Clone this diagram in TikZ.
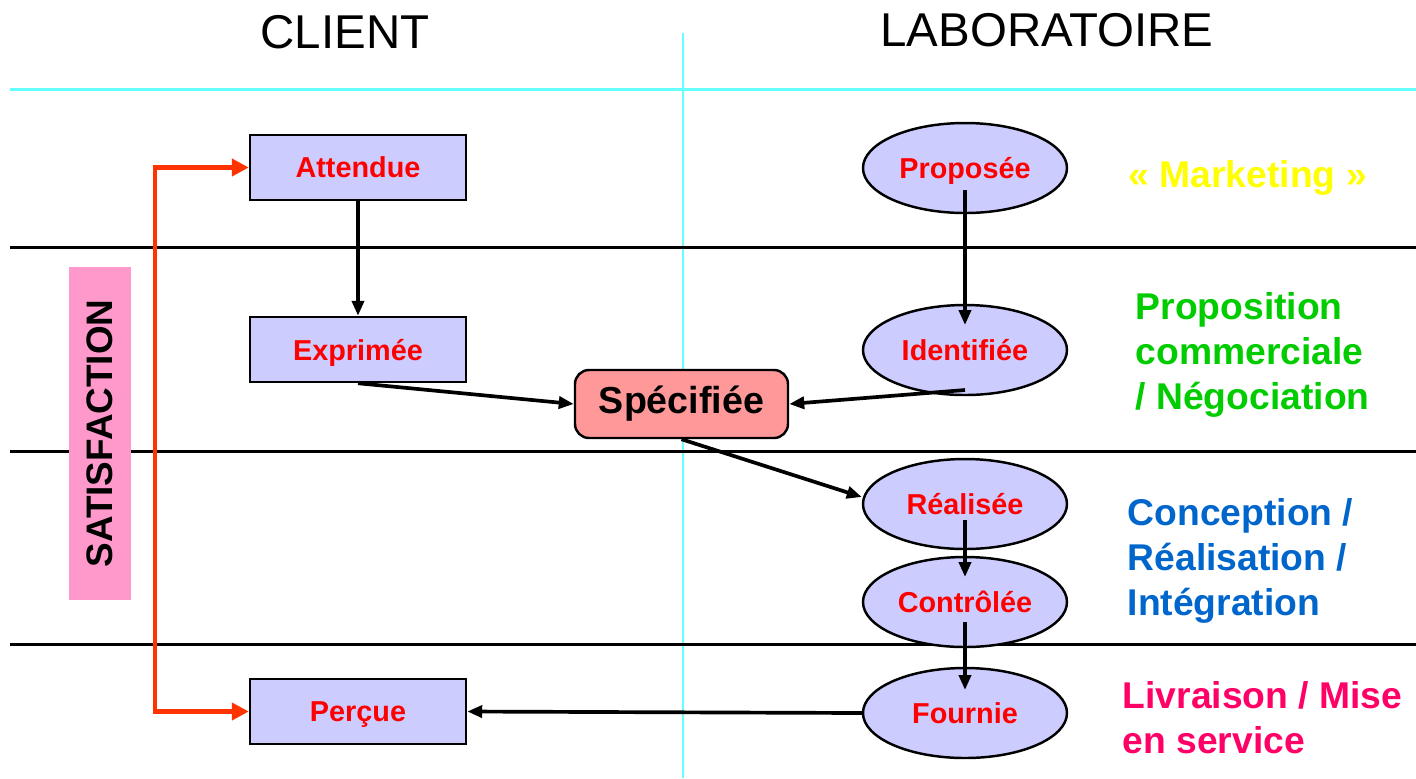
\documentclass[tikz,border=0pt]{standalone}
\usepackage{fontspec}
\setmainfont{Liberation Sans}
\definecolor{boxlilac}{RGB}{204, 204, 255}
\definecolor{labred}{RGB}{255, 0, 0}
\definecolor{specpink}{RGB}{255, 153, 153}
\definecolor{satpink}{RGB}{255, 153, 204}
\definecolor{satorange}{RGB}{255, 51, 0}
\definecolor{sepcyan}{RGB}{102, 255, 255}
\definecolor{mktyellow}{RGB}{255, 255, 0}
\definecolor{negogreen}{RGB}{0, 204, 0}
\definecolor{concblue}{RGB}{0, 102, 204}
\definecolor{livpink}{RGB}{255, 0, 102}
\usetikzlibrary{shapes, arrows.meta, positioning, calc}

\begin{document}
\begin{tikzpicture}[
  clientbox/.style={draw, fill=boxlilac, line width=0.7pt, minimum width=2.16cm, minimum height=0.65cm, text depth=0pt, text=labred, font=\fontsize{8.2}{10}\selectfont\bfseries},
  labellipse/.style={draw, ellipse, inner sep=0pt, fill=boxlilac, line width=0.7pt, minimum width=2.04cm, minimum height=0.9cm, text depth=0pt, text=labred, font=\fontsize{8.2}{10}\selectfont\bfseries},
  flowarrow/.style={line width=1.05pt, -{Triangle[length=0.15cm, width=0.12cm]}},
  satarrow/.style={satorange, line width=1.4pt, -{Triangle[length=0.17cm, width=0.17cm]}},
  phase/.style={anchor=west, align=left, inner sep=0pt, font=\fontsize{10.6}{12.8}\selectfont\bfseries},
  title/.style={font=\fontsize{13.5}{16}\selectfont}
]
  \useasboundingbox (0,0) rectangle (14.16,-7.78);

  % Titles and separators
  \node[title] (client) at (3.45,-0.32) {CLIENT};
  \node[title] (labo) at (10.47,-0.3) {LABORATOIRE};
  \draw[sepcyan, line width=0.85pt] (0.1,-0.89) -- (14.16,-0.89);
  \draw[sepcyan, line width=0.85pt] (6.83,-0.33) -- (6.83,-7.78);
  \foreach \y in {2.47, 4.51, 6.44}
    \draw[line width=0.85pt] (0.1,-\y) -- (14.16,-\y);

  % Client side
  \node[clientbox] (att) at (3.58,-1.675) {Attendue};
  \node[clientbox] (exp) at (3.58,-3.495) {Exprimée};
  \node[clientbox] (per) at (3.58,-7.115) {Perçue};
  \node[fill=satpink, rotate=90, minimum width=3.33cm, minimum height=0.62cm, font=\fontsize{10.5}{12}\selectfont\bfseries] (sat) at (1.0,-4.335) {SATISFACTION};

  % Laboratory side
  \node[labellipse] (prop) at (9.65,-1.68) {Proposée};
  \node[labellipse] (ident) at (9.65,-3.5) {Identifiée};
  \node[labellipse] (real) at (9.65,-5.04) {Réalisée};
  \node[labellipse] (ctrl) at (9.65,-6.02) {Contrôlée};
  \node[labellipse] (fourn) at (9.65,-7.13) {Fournie};
  \node[draw, fill=specpink, rounded corners=4pt, line width=0.7pt, minimum width=2.13cm, minimum height=0.68cm, font=\fontsize{10.7}{12}\selectfont\bfseries] (spec) at (6.815,-4.04) {Spécifiée};

  % Phases
  \node[phase, text=mktyellow] (mkt) at (11.28,-1.78) {« Marketing »};
  \node[phase, text=negogreen] (nego) at (11.35,-3.55) {Proposition\\commerciale\\/ Négociation};
  \node[phase, text=concblue] (conc) at (11.27,-5.61) {Conception /\\Réalisation /\\Intégration};
  \node[phase, text=livpink] (liv) at (11.22,-7.18) {Livraison / Mise\\en service};

  % Flow
  \draw[flowarrow] (att.south) -- (exp.north);
  \draw[flowarrow] (exp.south) -- (spec.west);
  \draw[flowarrow] ([yshift=-2.2mm]prop.center) -- ([yshift=2.5mm]ident.center);
  \draw[flowarrow] ([yshift=-4mm]ident.center) -- (spec.east);
  \draw[flowarrow] (spec.south) -- ([yshift=0.7mm]real.west);
  \draw[flowarrow] ([yshift=-1.6mm]real.center) -- ([yshift=2.5mm]ctrl.center);
  \draw[flowarrow] ([yshift=-2mm]ctrl.center) -- ([yshift=2.3mm]fourn.center);
  \draw[flowarrow] (fourn.west) -- (per.east);

  % Satisfaction loop
  \coordinate (loop) at (1.55,-4.4);
  \draw[satarrow] (loop) |- (att.west);
  \draw[satarrow] (loop) |- (per.west);
\end{tikzpicture}
\end{document}
